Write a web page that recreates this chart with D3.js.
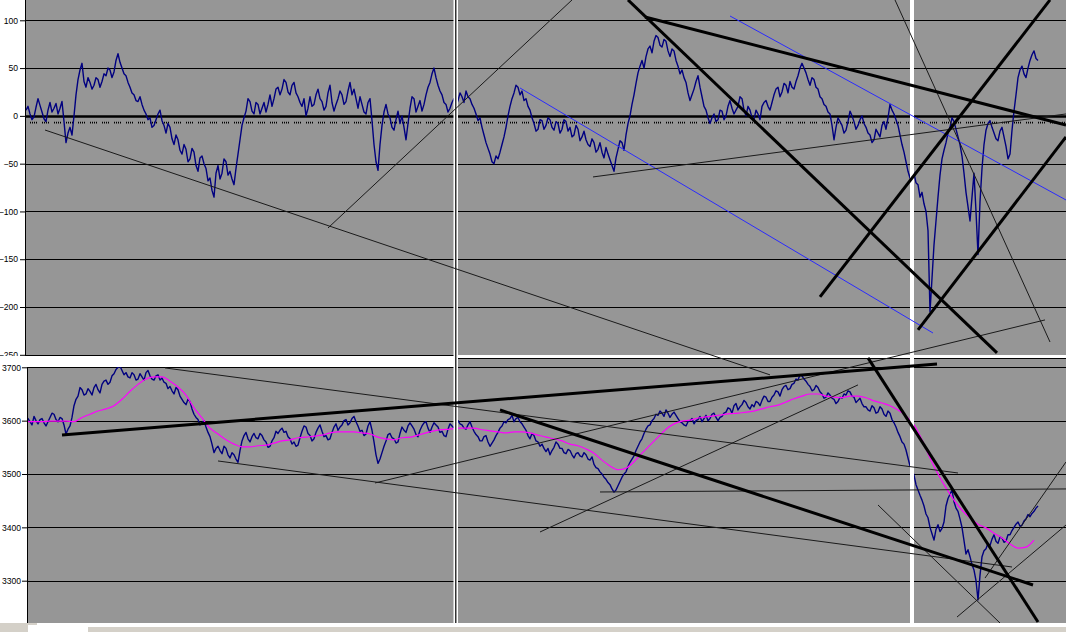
<!DOCTYPE html>
<html><head><meta charset="utf-8">
<script src="https://cdn.jsdelivr.net/npm/d3@7"></script>
<style>html,body{margin:0;padding:0;background:#fff;overflow:hidden}</style>
</head><body><svg id="c" width="1066" height="632"></svg>
<script>
// ---------- data ----------
const SAMPLE_STEP = 2;      // session units between samples of the two main series
const MA_STEP = 8;          // session units between samples of the moving average
const oscTicks = [100, 50, 0, -50, -100, -150, -200, -250];
const priceTicks = [3700, 3600, 3500, 3400, 3300];

const oscillator = [
 6,10,2,-4,-1,9,18,11,4,-3,-6,6,14,4,8,13,2,8,15,-6,
 -28,-18,-12,-20,0,22,38,48,55,36,30,40,35,28,32,40,38,30,36,44,
 42,50,48,40,46,58,65,56,50,44,42,35,30,24,22,16,15,20,12,6,
 2,-4,-2,-12,-10,-4,2,6,-5,-10,-18,-8,-12,-24,-30,-20,-25,-36,-40,-30,
 -35,-48,-45,-34,-38,-52,-58,-44,-42,-50,-55,-68,-65,-78,-85,-60,-52,-66,-60,-45,
 -48,-62,-58,-66,-72,-55,-40,-25,-10,-2,5,18,15,5,2,14,12,2,8,14,
 4,12,22,10,18,28,30,22,28,38,35,25,22,32,35,24,20,14,10,18,
 0,8,20,10,12,22,28,18,15,6,10,24,32,14,5,12,18,26,22,12,
 15,26,35,22,28,18,8,20,12,4,2,14,18,-5,-30,-48,-57,-30,-10,4,
 12,2,-2,-12,-15,-4,5,-8,0,-12,-25,-8,8,20,18,4,10,16,5,12,
 22,30,35,44,50,40,32,26,22,14,12,4,8,14,18,10,16,24,20,14,
 26,20,18,12,8,2,-5,-2,-12,-20,-28,-34,-40,-48,-50,-42,-45,-38,-30,-22,
 -12,0,10,18,24,32,30,22,26,16,18,10,6,-2,-8,-16,-14,-4,-5,-14,
 -10,-2,-4,-12,-15,-6,-8,-18,-14,-4,-6,-16,-12,-22,-20,-10,-14,-26,-22,-16,
 -25,-30,-32,-24,-28,-38,-35,-28,-38,-44,-33,-40,-46,-52,-58,-44,-35,-26,-28,-36,
 -20,-8,0,12,22,34,45,52,58,50,62,70,73,66,78,84,82,74,72,80,
 78,68,62,70,68,58,52,44,48,40,35,24,16,22,28,36,42,30,20,10,
 6,-2,-8,-2,2,-6,-4,6,5,-4,0,10,16,8,2,6,10,20,18,6,
 0,10,6,-2,-4,6,2,-4,10,14,16,10,6,14,22,28,30,20,25,34,
 32,24,36,30,28,36,42,50,55,50,45,38,32,40,38,30,28,20,18,12,
 10,4,2,-10,-25,-12,-2,-6,-10,-18,-15,-6,5,0,-6,-14,-10,-4,0,-8,
 -12,-18,-20,-28,-25,-14,-18,-22,-10,-6,-14,-2,12,6,2,-4,-10,-20,-30,-38,
 -48,-58,-65,-54,-60,-70,-72,-85,-80,-92,-100,-120,-205,-170,-135,-110,-85,-62,-45,-36,
 -28,-18,-12,-2,-6,-14,-22,-30,-42,-60,-80,-95,-110,-85,-60,-100,-145,-90,-55,-30,
 -15,-8,-5,-12,-18,-24,-26,-16,-12,-22,-32,-45,-40,-15,5,22,40,48,52,44,
 40,50,58,64,68,60,58
];

const price = [
 3600,3604,3598,3592,3608,3600,3594,3602,3604,3596,3590,3598,3606,3614,3612,3602,3598,3606,3604,3592,
 3575,3584,3590,3606,3628,3640,3646,3662,3658,3648,3650,3660,3655,3648,3662,3668,3658,3652,3668,3674,
 3676,3668,3672,3684,3688,3696,3700,3702,3694,3686,3690,3682,3680,3690,3686,3676,3678,3688,3682,3676,
 3690,3694,3684,3678,3676,3684,3686,3676,3680,3672,3670,3660,3664,3656,3650,3662,3658,3646,3640,3634,
 3630,3640,3636,3622,3612,3606,3602,3592,3596,3600,3588,3578,3570,3556,3540,3548,3552,3544,3538,3552,
 3548,3536,3530,3540,3536,3528,3522,3544,3562,3572,3578,3566,3560,3570,3576,3568,3566,3576,3572,3564,
 3560,3550,3552,3562,3568,3580,3576,3582,3586,3578,3580,3570,3566,3556,3560,3552,3554,3568,3580,3590,
 3588,3576,3572,3562,3566,3578,3586,3592,3580,3570,3572,3564,3566,3578,3588,3594,3582,3588,3592,3600,
 3602,3592,3596,3604,3608,3598,3590,3580,3582,3572,3575,3590,3598,3582,3560,3536,3520,3528,3540,3552,
 3562,3574,3576,3568,3566,3558,3560,3576,3588,3582,3578,3590,3596,3590,3584,3574,3570,3582,3590,3596,
 3598,3586,3578,3588,3596,3592,3588,3578,3580,3572,3570,3584,3594,3590,3586,3596,3600,3594,3592,3586,
 3584,3592,3598,3588,3580,3574,3570,3562,3562,3570,3572,3560,3552,3558,3564,3572,3578,3586,3590,3598,
 3596,3602,3604,3610,3598,3604,3606,3598,3594,3588,3582,3572,3566,3576,3572,3562,3560,3552,3556,3548,
 3542,3548,3536,3544,3550,3560,3556,3548,3548,3540,3538,3546,3544,3536,3530,3538,3540,3534,3532,3540,
 3536,3528,3526,3532,3518,3512,3510,3504,3500,3494,3490,3484,3480,3472,3466,3470,3478,3486,3494,3500,
 3504,3514,3522,3528,3534,3544,3552,3560,3566,3576,3584,3590,3592,3600,3604,3612,3610,3618,3614,3608,
 3620,3614,3606,3612,3616,3610,3604,3598,3596,3592,3590,3598,3600,3604,3594,3600,3602,3608,3598,3604,
 3610,3600,3604,3612,3614,3606,3600,3606,3608,3614,3616,3624,3622,3614,3628,3632,3620,3626,3630,3638,
 3634,3626,3622,3630,3626,3636,3634,3628,3638,3646,3644,3636,3636,3644,3648,3656,3654,3646,3658,3664,
 3666,3658,3660,3668,3670,3678,3676,3686,3684,3678,3674,3668,3664,3656,3658,3666,3662,3654,3650,3642,
 3644,3652,3648,3642,3640,3632,3636,3644,3642,3650,3648,3656,3654,3646,3644,3634,3638,3642,3632,3626,
 3626,3620,3618,3628,3624,3614,3616,3626,3622,3612,3608,3618,3614,3602,3596,3588,3578,3570,3560,3556,
 3545,3530,3515,3508,3498,3480,3470,3460,3451,3440,3425,3418,3400,3388,3376,3396,3405,3392,3398,3410,
 3440,3454,3462,3470,3448,3436,3430,3416,3400,3375,3350,3358,3345,3330,3320,3300,3264,3310,3345,3356,
 3360,3370,3366,3378,3386,3374,3370,3382,3380,3372,3374,3386,3386,3394,3400,3406,3410,3402,3404,3412,
 3416,3424,3420,3426,3430,3436,3440
];

const priceMA = [
 3598,3598,3598,3599,3599,3599,3598,3606,3612,3618,
 3622,3628,3640,3655,3668,3678,3682,3682,3674,3663,
 3648,3624,3605,3586,3575,3564,3556,3551,3551,3553,
 3554,3558,3562,3564,3568,3569,3571,3573,3577,3579,
 3579,3579,3577,3575,3569,3566,3564,3568,3569,3573,
 3577,3581,3583,3584,3586,3586,3586,3583,3581,3579,
 3577,3579,3579,3577,3573,3569,3566,3562,3556,3553,
 3547,3539,3526,3515,3508,3511,3523,3539,3554,3569,
 3584,3594,3599,3601,3605,3607,3609,3611,3613,3614,
 3616,3618,3622,3626,3629,3635,3641,3646,3650,3650,
 3646,3644,3643,3646,3646,3643,3637,3633,3628,3620,
 3609,3592,3564,3530,3500,3474,3451,3432,3418,3406,
 3399,3389,3380,3369,3361,3363,3376
];

// trend lines: [session1, value1, session2, value2]
const oscThickLines = [
 [619, 103.5, 1040, -9.5],
 [602, 121.3, 971, -248],
 [794, -189.4, 1024, 121.3],
 [892, -224, 1040, -22]
];
const oscThinLines = [
 [19, -14.8, 744, -271],
 [302, -117.3, 546, 121.3],
 [567, -63.9, 1040, 2],
 [869, 121.3, 1024, -236.6]
];
const oscBlueLines = [
 [704, 104.5, 1040, -88],
 [494, 29.2, 907, -227.2]
];
const priceThickLines = [
 [36, 3573.2, 911, 3706.3],
 [474, 3620.1, 1007, 3292],
 [842, 3717.6, 1012, 3222.6]
];
const priceThinLines = [
 [139, 3698.8, 932, 3501.9],
 [192, 3524.4, 986, 3325.7],
 [349, 3483.2, 1019, 3788.8],
 [574, 3466.3, 1040, 3472],
 [514, 3391.3, 832, 3667],
 [852, 3441.9, 974, 3220.7],
 [931, 3231.9, 1040, 3404.4],
 [959, 3305, 1040, 3522.6]
];

// ---------- drawing ----------
const svg = d3.select("#c");
const W = 1066, H = 632;
const GRAY = "#969696";
const x = d3.scaleLinear().domain([0, 1040]).range([26, 1066]);
const yTop = d3.scaleLinear().domain([-250, 100]).range([354.8, 20.3]);
const yBot = d3.scaleLinear().domain([3300, 3700]).range([580.7, 367.3]);

svg.append("rect").attr("width", W).attr("height", H).attr("fill", "#fff");

const defs = svg.append("defs");
defs.append("clipPath").attr("id", "clipTop").append("rect")
  .attr("x", 26).attr("y", 0).attr("width", 1040).attr("height", 355);
defs.append("clipPath").attr("id", "clipBot").append("rect")
  .attr("x", 27).attr("y", 359).attr("width", 1039).attr("height", 264);

// panels
svg.append("rect").attr("x", 26).attr("y", 0).attr("width", 1040).attr("height", 355).attr("fill", GRAY);
svg.append("rect").attr("x", 27).attr("y", 367).attr("width", 430).attr("height", 256).attr("fill", GRAY);
svg.append("rect").attr("x", 458).attr("y", 359).attr("width", 608).attr("height", 264).attr("fill", GRAY);

// gridlines top
const gTop = svg.append("g").attr("clip-path", "url(#clipTop)");
gTop.selectAll("line.grid").data(oscTicks).join("line")
  .attr("x1", 26).attr("x2", 1066)
  .attr("y1", d => Math.round(yTop(d)) + 0.5).attr("y2", d => Math.round(yTop(d)) + 0.5)
  .attr("stroke", "#000").attr("stroke-width", d => d === 0 ? 2.4 : 1);
// squeezed category labels row (rendered as dots)
gTop.append("line").attr("x1", 30).attr("x2", 1066)
  .attr("y1", yTop(0) + 6.8).attr("y2", yTop(0) + 6.8)
  .attr("stroke", "#000").attr("stroke-width", 1.6)
  .attr("stroke-dasharray", "1,1,1,1,1,1,1,5");

// oscillator line
const lineTop = d3.line().x((d, i) => x(i * SAMPLE_STEP)).y(d => yTop(d));
gTop.append("path").datum(oscillator).attr("d", lineTop)
  .attr("fill", "none").attr("stroke", "#000080").attr("stroke-width", 1.4).attr("stroke-linejoin", "round");

// gridlines bottom
const gBot = svg.append("g").attr("clip-path", "url(#clipBot)");
gBot.selectAll("line.grid").data(priceTicks).join("line")
  .attr("x1", 27).attr("x2", 1066)
  .attr("y1", d => Math.round(yBot(d)) + 0.5).attr("y2", d => Math.round(yBot(d)) + 0.5)
  .attr("stroke", "#000").attr("stroke-width", 1);

const lineBot = d3.line().x((d, i) => x(i * SAMPLE_STEP)).y(d => yBot(d));
gBot.append("path").datum(price).attr("d", lineBot)
  .attr("fill", "none").attr("stroke", "#000080").attr("stroke-width", 1.4).attr("stroke-linejoin", "round");
const lineMA = d3.line().x((d, i) => x(i * MA_STEP)).y(d => yBot(d)).curve(d3.curveMonotoneX);
gBot.append("path").datum(priceMA).attr("d", lineMA)
  .attr("fill", "none").attr("stroke", "#ff00ff").attr("stroke-width", 1.2);

// separators
svg.append("rect").attr("x", 0).attr("y", 355).attr("width", 458).attr("height", 12).attr("fill", "#fff");
svg.append("rect").attr("x", 455).attr("y", 355).attr("width", 611).attr("height", 4).attr("fill", "#fff");
svg.append("line").attr("x1", 26).attr("x2", 456).attr("y1", 355.5).attr("y2", 355.5).attr("stroke", "#000");
svg.append("line").attr("x1", 456).attr("x2", 1066).attr("y1", 358.5).attr("y2", 358.5).attr("stroke", "#000");
svg.append("rect").attr("x", 453.5).attr("y", 0).attr("width", 4.5).attr("height", 623).attr("fill", "#fff");
svg.append("line").attr("x1", 455.8).attr("x2", 455.8).attr("y1", 0).attr("y2", 623).attr("stroke", "#000").attr("stroke-width", 1.2);
svg.append("rect").attr("x", 910).attr("y", 0).attr("width", 4).attr("height", 623).attr("fill", "#fff");

// trend lines
function drawLines(data, ys, color, width) {
  svg.append("g").selectAll("line").data(data).join("line")
    .attr("x1", d => x(d[0])).attr("y1", d => ys(d[1]))
    .attr("x2", d => x(d[2])).attr("y2", d => ys(d[3]))
    .attr("stroke", color).attr("stroke-width", width);
}
drawLines(oscBlueLines, yTop, "#2a2aff", 1);
drawLines(oscThinLines, yTop, "#1a1a1a", 1);
drawLines(priceThinLines, yBot, "#1a1a1a", 1);
drawLines(oscThickLines, yTop, "#000", 3);
drawLines(priceThickLines, yBot, "#000", 3);

// axes
const axTop = svg.append("g").attr("transform", "translate(26,0)")
  .call(d3.axisLeft(yTop).tickValues(oscTicks).tickSize(6).tickPadding(2).tickFormat(d3.format("d")));
const axBot = svg.append("g").attr("transform", "translate(27,0)")
  .call(d3.axisLeft(yBot).tickValues(priceTicks).tickSize(5).tickPadding(1).tickFormat(d3.format("d")));
[axTop, axBot].forEach(a => {
  a.select(".domain").remove();
  a.selectAll("text").attr("font-family", "Liberation Sans, Arial, sans-serif").attr("font-size", "8.6px").attr("fill", "#000");
  a.selectAll("line").attr("stroke", "#000");
});
svg.append("line").attr("x1", 25.5).attr("x2", 25.5).attr("y1", 0).attr("y2", 356).attr("stroke", "#000");
svg.append("line").attr("x1", 27.5).attr("x2", 27.5).attr("y1", 367).attr("y2", 623).attr("stroke", "#000");
// cover the part of the -250 label that falls below the panel
svg.append("rect").attr("x", 0).attr("y", 356).attr("width", 25).attr("height", 6).attr("fill", "#fff");

// bottom strip (sheet tabs)
svg.append("rect").attr("x", 0).attr("y", 623).attr("width", W).attr("height", 9).attr("fill", "#d4d0c8");
svg.append("rect").attr("x", 37).attr("y", 623).attr("width", 1029).attr("height", 4).attr("fill", "#fff");
svg.append("rect").attr("x", 28).attr("y", 625).attr("width", 60).attr("height", 7).attr("fill", "#fff");
svg.append("rect").attr("x", 0).attr("y", 623).attr("width", 28).attr("height", 9).attr("fill", "#d4d0c8");
</script></body></html>
